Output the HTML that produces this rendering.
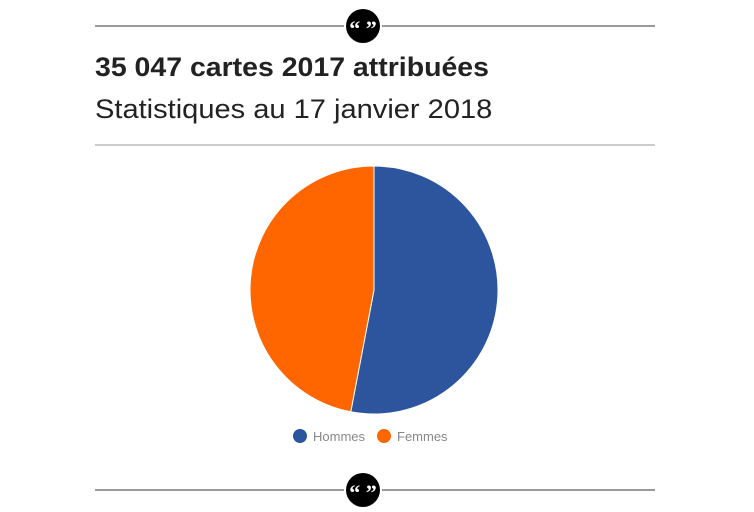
<!DOCTYPE html>
<html><head><meta charset="utf-8"><style>
body{margin:0;background:#fff;width:754px;height:512px;overflow:hidden;position:relative;font-family:"Liberation Sans",sans-serif}
.t{position:absolute;left:95px;color:#222;white-space:nowrap;transform-origin:0 0}
</style></head><body>
<svg width="754" height="512" style="position:absolute;left:0;top:0">
<g>
<line x1="95" y1="26" x2="655" y2="26" stroke="#333" stroke-width="1"/>
<circle cx="363" cy="26" r="19" fill="#fff"/>
<circle cx="363" cy="26" r="17" fill="#000"/>
<text x="363" y="36" text-anchor="middle" fill="#fff" font-family="Liberation Serif" font-weight="bold" font-size="22">“ ”</text>
</g>
<line x1="95" y1="145" x2="655" y2="145" stroke="#999" stroke-width="1"/>
<g id="pie"></g>
<g>
<circle cx="300" cy="436" r="7" fill="#2c559e"/>
<text x="313" y="441" font-size="13" fill="#888">Hommes</text>
<circle cx="384" cy="436" r="7" fill="#ff6600"/>
<text x="397" y="441" font-size="13" fill="#888">Femmes</text>
</g>
<g>
<line x1="95" y1="490" x2="655" y2="490" stroke="#333" stroke-width="1"/>
<circle cx="363" cy="490" r="19" fill="#fff"/>
<circle cx="363" cy="490" r="17" fill="#000"/>
<text x="363" y="500" text-anchor="middle" fill="#fff" font-family="Liberation Serif" font-weight="bold" font-size="22">“ ”</text>
</g>
</svg>
<div class="t" style="top:52px;font-size:27px;font-weight:bold;transform:scaleX(1.054)">35 047 cartes 2017 attribuées</div>
<div class="t" style="top:94px;font-size:27px;transform:scaleX(1.076)">Statistiques au 17 janvier 2018</div>
<script>
const categories=["Hommes","Femmes"];
const values=[53,47];
const colors=["#2c559e","#ff6600"];
const g=document.getElementById('pie');
const cx=374,cy=290,r=124;
const total=values.reduce((a,b)=>a+b,0);
let a0=0;
values.forEach((v,i)=>{
  const a1=a0+v/total*2*Math.PI;
  const x0=cx+r*Math.sin(a0),y0=cy-r*Math.cos(a0),x1=cx+r*Math.sin(a1),y1=cy-r*Math.cos(a1);
  const p=document.createElementNS('http://www.w3.org/2000/svg','path');
  p.setAttribute('d',`M${cx},${cy}L${x0},${y0}A${r},${r} 0 ${a1-a0>Math.PI?1:0} 1 ${x1},${y1}Z`);
  p.setAttribute('fill',colors[i]);
  p.setAttribute('stroke','#fff');
  p.setAttribute('stroke-width','1');
  
  
  g.appendChild(p);
  a0=a1;
});
</script>
</body></html>
